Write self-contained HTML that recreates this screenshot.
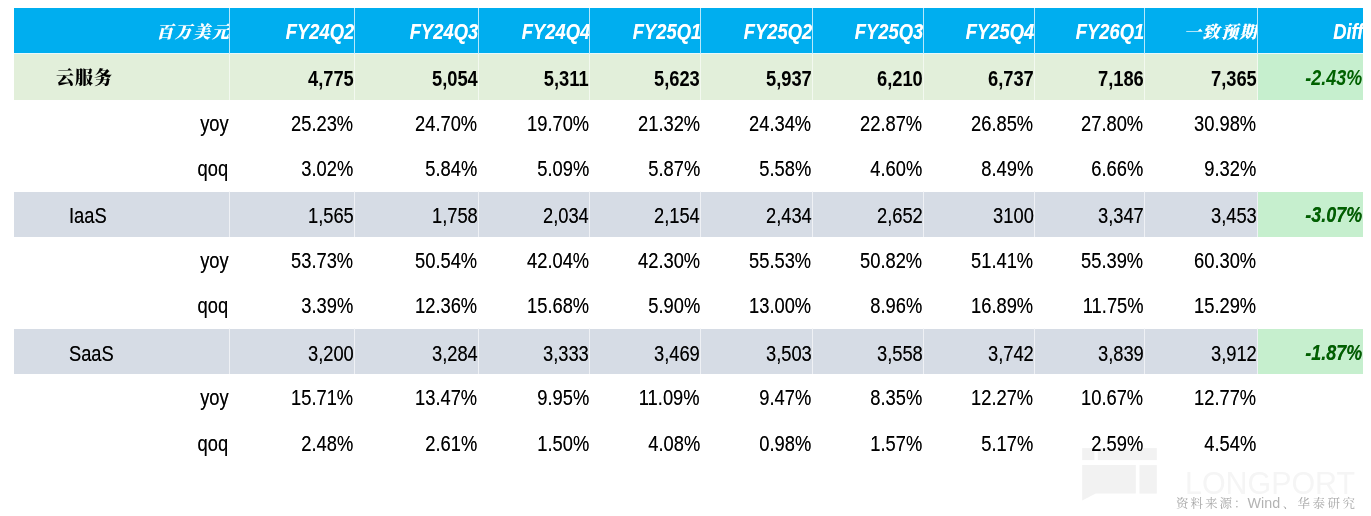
<!DOCTYPE html>
<html lang="zh-CN">
<head>
<meta charset="utf-8">
<title>云服务</title>
<style>
html,body{margin:0;padding:0;background:#fff;}
body{width:1371px;height:516px;overflow:hidden;position:relative;font-family:"Liberation Sans","Noto Serif CJK SC",sans-serif;font-size:21.5px;color:#000;}
.tbl{z-index:1;position:absolute;left:14px;top:8px;width:1349px;display:grid;grid-template-rows:46px;grid-auto-rows:45.7px;}
.row{display:contents;}
.c{box-sizing:border-box;height:45.7px;line-height:45.7px;text-align:right;white-space:nowrap;overflow:hidden;position:relative;padding-top:2.5px;}
.t{display:inline-block;transform:scaleX(.852);transform-origin:100% 50%;padding-right:1.5px;}
.hdr .c{height:46px;line-height:44px;padding-top:2px;background:#00aeef;color:#fff;font-weight:bold;font-style:italic;border-right:1px solid rgba(255,255,255,.72);border-bottom:1.5px solid #e8f8fd;}
.hdr .c.diff{border-right:none;}
.hdr .t{padding-right:0;margin-right:-.8px;text-shadow:0 0 .7px rgba(255,255,255,.6);}
.main .c{background:#e2efda;font-weight:bold;border-right:1px solid rgba(255,255,255,.6);}
.seg .c{background:#d6dce5;border-right:1px solid rgba(255,255,255,.6);border-top:1px solid #fff;line-height:44.7px;}
.main .c.diff,.seg .c.diff{background:#c6efce;color:#006100;font-weight:bold;font-style:italic;border-right:none;}
.main .c.first,.seg .c.first{text-align:left;}
.main .c.first .t{transform-origin:0 50%;padding-left:42px;}
.seg .c.first .t{transform-origin:0 50%;padding-left:64.5px;}
.cjk{font-family:"Liberation Serif","Noto Serif CJK SC",serif;font-size:18px;font-weight:900;transform:none;letter-spacing:1px;position:relative;top:-1.5px;}
.hdr .cjk{font-size:17px;letter-spacing:1.5px;margin-right:-1.5px;top:-1px;}
.wm{position:absolute;left:1070px;top:440px;z-index:0;}
.src{position:absolute;left:1176px;top:494px;height:18px;line-height:18px;font-size:14px;color:#b3b3b3;white-space:nowrap;font-family:"Liberation Sans","Noto Serif CJK SC",sans-serif;}
.src .k{font-family:"Liberation Serif","Noto Serif CJK SC",serif;font-size:12.5px;letter-spacing:2px;color:#a8a8a8;}
.src .w{margin-left:-1px;margin-right:2.5px;font-size:14.3px;}
.src .k2{letter-spacing:2.5px;}
.main .diff .t,.seg .diff .t{position:relative;top:-1px;transform:scaleX(.835);padding-right:.5px;}
.r3 .c,.r4 .c,.r6 .c{padding-top:1.5px;}
.main .c:not(.first):not(.diff) .t,.seg .c:not(.first):not(.diff) .t{padding-right:0;}
.sub .t,.seg .t{text-shadow:0 0 .7px rgba(0,0,0,.55);}
</style>
</head>
<body>
<svg class="wm" width="300" height="70" viewBox="1070 440 300 70">
  <g fill="#f2f2f2">
    <rect x="1082.2" y="448.1" width="12.2" height="12"/>
    <rect x="1097.8" y="448.1" width="59" height="12"/>
    <path d="M1082.2 465.1H1135.8V493.6H1095.8L1082.2 500.4Z"/>
    <rect x="1139.5" y="465.1" width="17.3" height="28.5"/>
  </g>
  <text x="1185" y="493.6" font-family="Liberation Sans, sans-serif" font-size="32" fill="#f5f5f5" textLength="170" lengthAdjust="spacingAndGlyphs">LONGPORT</text>
</svg>
<div class="src"><span class="k">资料来源：</span><span class="w">Wind</span><span class="k k2">、华泰研究</span></div>
<div class="tbl" style="grid-template-columns:215.75px 124.75px 124.0px 111.5px 111.25px 111.25px 111.25px 111.0px 109.75px 113.0px 105.5px">
<div class="row hdr r0">
  <div class="c first"><span class="t cjk">百万美元</span></div>
  <div class="c"><span class="t">FY24Q2</span></div>
  <div class="c"><span class="t">FY24Q3</span></div>
  <div class="c"><span class="t">FY24Q4</span></div>
  <div class="c"><span class="t">FY25Q1</span></div>
  <div class="c"><span class="t">FY25Q2</span></div>
  <div class="c"><span class="t">FY25Q3</span></div>
  <div class="c"><span class="t">FY25Q4</span></div>
  <div class="c"><span class="t">FY26Q1</span></div>
  <div class="c"><span class="t cjk">一致预期</span></div>
  <div class="c diff"><span class="t">Diff</span></div>
</div>
<div class="row main r1">
  <div class="c first"><span class="t cjk">云服务</span></div>
  <div class="c"><span class="t">4,775</span></div>
  <div class="c"><span class="t">5,054</span></div>
  <div class="c"><span class="t">5,311</span></div>
  <div class="c"><span class="t">5,623</span></div>
  <div class="c"><span class="t">5,937</span></div>
  <div class="c"><span class="t">6,210</span></div>
  <div class="c"><span class="t">6,737</span></div>
  <div class="c"><span class="t">7,186</span></div>
  <div class="c"><span class="t">7,365</span></div>
  <div class="c diff"><span class="t">-2.43%</span></div>
</div>
<div class="row sub r2">
  <div class="c first"><span class="t">yoy</span></div>
  <div class="c"><span class="t">25.23%</span></div>
  <div class="c"><span class="t">24.70%</span></div>
  <div class="c"><span class="t">19.70%</span></div>
  <div class="c"><span class="t">21.32%</span></div>
  <div class="c"><span class="t">24.34%</span></div>
  <div class="c"><span class="t">22.87%</span></div>
  <div class="c"><span class="t">26.85%</span></div>
  <div class="c"><span class="t">27.80%</span></div>
  <div class="c"><span class="t">30.98%</span></div>
  <div class="c diff"><span class="t"></span></div>
</div>
<div class="row sub r3">
  <div class="c first"><span class="t">qoq</span></div>
  <div class="c"><span class="t">3.02%</span></div>
  <div class="c"><span class="t">5.84%</span></div>
  <div class="c"><span class="t">5.09%</span></div>
  <div class="c"><span class="t">5.87%</span></div>
  <div class="c"><span class="t">5.58%</span></div>
  <div class="c"><span class="t">4.60%</span></div>
  <div class="c"><span class="t">8.49%</span></div>
  <div class="c"><span class="t">6.66%</span></div>
  <div class="c"><span class="t">9.32%</span></div>
  <div class="c diff"><span class="t"></span></div>
</div>
<div class="row seg r4">
  <div class="c first"><span class="t">IaaS</span></div>
  <div class="c"><span class="t">1,565</span></div>
  <div class="c"><span class="t">1,758</span></div>
  <div class="c"><span class="t">2,034</span></div>
  <div class="c"><span class="t">2,154</span></div>
  <div class="c"><span class="t">2,434</span></div>
  <div class="c"><span class="t">2,652</span></div>
  <div class="c"><span class="t">3100</span></div>
  <div class="c"><span class="t">3,347</span></div>
  <div class="c"><span class="t">3,453</span></div>
  <div class="c diff"><span class="t">-3.07%</span></div>
</div>
<div class="row sub r5">
  <div class="c first"><span class="t">yoy</span></div>
  <div class="c"><span class="t">53.73%</span></div>
  <div class="c"><span class="t">50.54%</span></div>
  <div class="c"><span class="t">42.04%</span></div>
  <div class="c"><span class="t">42.30%</span></div>
  <div class="c"><span class="t">55.53%</span></div>
  <div class="c"><span class="t">50.82%</span></div>
  <div class="c"><span class="t">51.41%</span></div>
  <div class="c"><span class="t">55.39%</span></div>
  <div class="c"><span class="t">60.30%</span></div>
  <div class="c diff"><span class="t"></span></div>
</div>
<div class="row sub r6">
  <div class="c first"><span class="t">qoq</span></div>
  <div class="c"><span class="t">3.39%</span></div>
  <div class="c"><span class="t">12.36%</span></div>
  <div class="c"><span class="t">15.68%</span></div>
  <div class="c"><span class="t">5.90%</span></div>
  <div class="c"><span class="t">13.00%</span></div>
  <div class="c"><span class="t">8.96%</span></div>
  <div class="c"><span class="t">16.89%</span></div>
  <div class="c"><span class="t">11.75%</span></div>
  <div class="c"><span class="t">15.29%</span></div>
  <div class="c diff"><span class="t"></span></div>
</div>
<div class="row seg r7">
  <div class="c first"><span class="t">SaaS</span></div>
  <div class="c"><span class="t">3,200</span></div>
  <div class="c"><span class="t">3,284</span></div>
  <div class="c"><span class="t">3,333</span></div>
  <div class="c"><span class="t">3,469</span></div>
  <div class="c"><span class="t">3,503</span></div>
  <div class="c"><span class="t">3,558</span></div>
  <div class="c"><span class="t">3,742</span></div>
  <div class="c"><span class="t">3,839</span></div>
  <div class="c"><span class="t">3,912</span></div>
  <div class="c diff"><span class="t">-1.87%</span></div>
</div>
<div class="row sub r8">
  <div class="c first"><span class="t">yoy</span></div>
  <div class="c"><span class="t">15.71%</span></div>
  <div class="c"><span class="t">13.47%</span></div>
  <div class="c"><span class="t">9.95%</span></div>
  <div class="c"><span class="t">11.09%</span></div>
  <div class="c"><span class="t">9.47%</span></div>
  <div class="c"><span class="t">8.35%</span></div>
  <div class="c"><span class="t">12.27%</span></div>
  <div class="c"><span class="t">10.67%</span></div>
  <div class="c"><span class="t">12.77%</span></div>
  <div class="c diff"><span class="t"></span></div>
</div>
<div class="row sub r9">
  <div class="c first"><span class="t">qoq</span></div>
  <div class="c"><span class="t">2.48%</span></div>
  <div class="c"><span class="t">2.61%</span></div>
  <div class="c"><span class="t">1.50%</span></div>
  <div class="c"><span class="t">4.08%</span></div>
  <div class="c"><span class="t">0.98%</span></div>
  <div class="c"><span class="t">1.57%</span></div>
  <div class="c"><span class="t">5.17%</span></div>
  <div class="c"><span class="t">2.59%</span></div>
  <div class="c"><span class="t">4.54%</span></div>
  <div class="c diff"><span class="t"></span></div>
</div>
</div>
</body>
</html>
